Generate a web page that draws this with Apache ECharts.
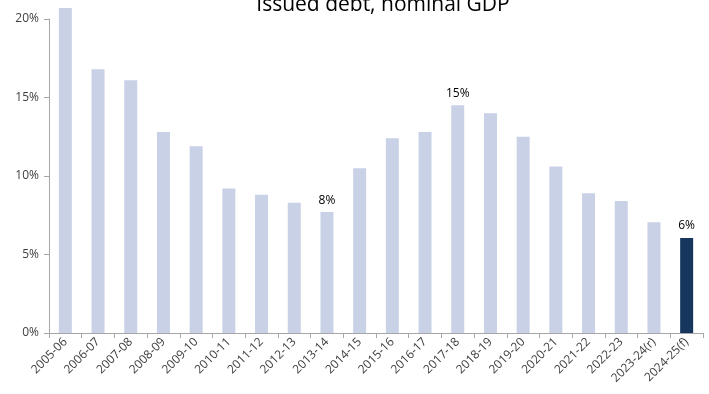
<!DOCTYPE html>
<html lang="en">
<head>
    <meta charset="UTF-8">
    <title>Issued debt, nominal GDP</title>
    <script src="https://cdn.jsdelivr.net/npm/echarts@6/dist/echarts.min.js"></script>
</head>
<body style="margin:0">
<div id="main" style="width:709px;height:394px;"></div>
<script type="text/javascript">
    // financial years
    var years = ["2005-06","2006-07","2007-08","2008-09","2009-10","2010-11","2011-12","2012-13","2013-14","2014-15",
                 "2015-16","2016-17","2017-18","2018-19","2019-20","2020-21","2021-22","2022-23","2023-24(r)","2024-25(f)"];
    // issued debt as % of nominal GDP
    var debtPct = [20.7, 16.8, 16.1, 12.8, 11.9, 9.2, 8.8, 8.3, 7.7, 10.5,
                   12.4, 12.8, 14.5, 14.0, 12.5, 10.6, 8.9, 8.4, 7.05, 6.05];
    // bars that carry a value label
    var labelled = ["2013-14", "2017-18", "2024-25(f)"];
    var yTicks = [0, 5, 10, 15, 20];

    var textColor = '#404040';
    var lightBar = '#c8d1e5';
    var darkBar = '#17365d';

    var barData = [];
    for (var i = 0; i < years.length; i++) {
        var last = (i == years.length - 1);
        barData.push({
            value: debtPct[i],
            itemStyle: {color: last ? darkBar : lightBar},
            label: {show: labelled.indexOf(years[i]) >= 0}
        });
    }

    var myChart = echarts.init(document.getElementById('main'));
    myChart.setOption({
        animation: false,
        title: {
            text: 'Issued debt, nominal GDP',
            left: 378,
            textAlign: 'center',
            top: -10,
            textStyle: {fontFamily: 'Open Sans', fontSize: 21, fontWeight: 'normal', color: '#000'}
        },
        grid: {left: 49, right: 6, top: 19, bottom: 61},
        xAxis: {
            type: 'category',
            data: years,
            axisLine: {lineStyle: {color: '#a6a6a6'}},
            axisTick: {show: true, length: 5, lineStyle: {color: '#a6a6a6'}},
            axisLabel: {
                rotate: 45, interval: 0, color: textColor,
                fontFamily: 'Open Sans', fontSize: 12, margin: 7
            }
        },
        yAxis: {
            type: 'value',
            min: yTicks[0],
            max: yTicks[yTicks.length - 1],
            interval: 5,
            splitLine: {show: false},
            axisLine: {show: true, lineStyle: {color: '#a6a6a6'}},
            axisTick: {show: true, length: 5, lineStyle: {color: '#a6a6a6'}},
            axisLabel: {
                color: textColor, fontFamily: 'Open Sans', fontSize: 12, margin: 10,
                formatter: function (v) { return v + '%'; }
            }
        },
        series: [{
            type: 'bar',
            data: barData,
            barWidth: 13,
            clip: false,
            label: {
                position: 'top',
                distance: 6,
                color: '#000',
                fontFamily: 'Open Sans',
                fontSize: 12,
                formatter: function (p) { return Math.round(p.value) + '%'; }
            }
        }]
    });
</script>
</body>
</html>
